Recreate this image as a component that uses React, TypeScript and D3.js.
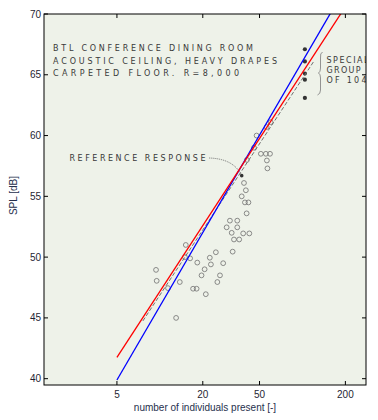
import React from 'react';
import * as d3 from 'd3';

// Tick labels
const xTicks = [5, 20, 50, 200];
const yTicks = [40, 45, 50, 55, 60, 65, 70];

// Open circles: number of individuals present, SPL [dB]
const openN = [47.7, 56.1, 59.8, 45.7, 40.8, 51.1, 55.4, 59.2, 56.3, 56.8, 38.9, 40.1, 37.5, 39.5, 41.8, 40.6,
  31.0, 34.9, 29.4, 34.9, 31.9, 38.4, 42.4, 33.1, 36.0, 32.4,
  15.2, 15.0, 16.3, 18.3, 22.4, 24.7, 22.8, 27.8, 20.6, 19.6, 26.4, 9.4, 9.5, 11.4, 13.8, 17.1, 18.1, 21.0, 25.3, 13.0];
const openSPL = [60.0, 60.7, 61.1, 59.0, 58.0, 58.5, 58.5, 58.5, 57.95, 57.3, 56.1, 55.5, 55.0, 54.5, 54.5, 53.6,
  53.0, 53.0, 52.45, 52.45, 52.0, 51.95, 51.95, 51.45, 51.45, 50.45,
  51.0, 50.0, 49.9, 49.55, 49.95, 50.4, 49.4, 49.5, 49.0, 48.5, 48.5, 48.95, 48.05, 47.45, 47.95, 47.4, 47.4, 46.95, 47.95, 45.0];

// Special group of 104 (filled dots)
const specialN = [104, 104, 104, 104, 104];
const specialSPL = [67.1, 66.1, 65.1, 64.6, 63.1];

// Reference response point
const refN = [37.5];
const refSPL = [56.7];

// Fitted lines (endpoints)
const blueN = [5, 175];
const blueSPL = [39.89, 71.0];
const redN = [5, 200];
const redSPL = [41.76, 70.6];
const grayN = [7.6, 120];
const graySPL = [44.75, 66.1];

const titleLines = ['BTL  CONFERENCE  DINING  ROOM', 'ACOUSTIC  CEILING,  HEAVY  DRAPES', 'CARPETED  FLOOR.   R=8,000'];
const specialLines = ['SPECIAL', 'GROUP', 'OF  104'];

export default function App() {
  const W = 378, H = 420;
  const L = 44, R = 366, T = 14, B = 385;
  const x = d3.scaleLog().domain([1.54, 279]).range([L, R]);
  const y = d3.scaleLinear().domain([39.48, 70]).range([B, T]);
  const pts = (ns: number[], ss: number[]) => ns.map((n, i) => ({ n, s: ss[i] }));
  const line = d3.line<{ n: number; s: number }>().x(d => x(d.n)).y(d => y(d.s));
  const annFont = "'DejaVu Sans', sans-serif";
  const refX = x(refN[0]), refY = y(refSPL[0]);
  const titleLen = [200, 224, 186];
  const titleY = [51, 63.5, 75.5];
  const specY = [62.5, 72.5, 82.5];
  const specLen = [42, 34, 40];
  return (
    <svg width={W} height={H} style={{ position: 'absolute', left: 0, top: 0, background: '#fff' }}
      fontFamily="'Liberation Sans', Arial, sans-serif">
      <defs>
        <clipPath id="plot"><rect x={L} y={T} width={R - L} height={B - T} /></clipPath>
      </defs>
      <rect x={L} y={T} width={R - L} height={B - T} fill="#eef2e9" />
      <g clipPath="url(#plot)">
        {/* annotations */}
        <g fontFamily={annFont} fontSize={8} fill="#3a3a3a" style={{ whiteSpace: 'pre' }}>
          {titleLines.map((t, i) => (
            <text key={i} x={53} y={titleY[i]} textLength={titleLen[i]} lengthAdjust="spacing">{t}</text>
          ))}
          <text x={69.5} y={161} textLength={136} lengthAdjust="spacing">REFERENCE  RESPONSE</text>
          {specialLines.map((t, i) => (
            <text key={i} x={326.5} y={specY[i]} textLength={specLen[i]} lengthAdjust="spacing">{t}</text>
          ))}
        </g>
        <path d="M322.5,52 Q320,53 320.5,58 L320.5,68 Q320.5,72 318.5,73 Q320.5,74 320.5,78 L320.5,90 Q320.5,94 317.5,95"
          fill="none" stroke="#888" strokeWidth={0.9} />
        <path d={`M209,158 Q${refX - 8},${refY - 17} ${refX},${refY}`} fill="none" stroke="#666" strokeWidth={0.8} strokeDasharray="1.2,0.8" />
        {/* open circles */}
        {pts(openN, openSPL).map((d, i) => (
          <circle key={i} cx={x(d.n)} cy={y(d.s)} r={2.4} fill="none" stroke="#707070" strokeWidth={0.8} />
        ))}
        {pts(specialN, specialSPL).map((d, i) => (
          <circle key={i} cx={x(d.n)} cy={y(d.s)} r={2.1} fill="#333" />
        ))}
        {pts(refN, refSPL).map((d, i) => (
          <circle key={i} cx={x(d.n)} cy={y(d.s)} r={1.8} fill="#333" />
        ))}
        <path d={line(pts(grayN, graySPL)) || ''} fill="none" stroke="#6f6f6f" strokeWidth={1} strokeDasharray="4,2" />
        <path d={line(pts(blueN, blueSPL)) || ''} fill="none" stroke="#0000ff" strokeWidth={1.3} />
        <path d={line(pts(redN, redSPL)) || ''} fill="none" stroke="#ff0000" strokeWidth={1.3} />
      </g>
      {/* frame */}
      <rect x={L} y={T} width={R - L} height={B - T} fill="none" stroke="#000" strokeWidth={1} />
      {/* ticks */}
      {yTicks.map(t => (
        <g key={t}>
          <line x1={L} x2={L + 4} y1={y(t)} y2={y(t)} stroke="#000" />
          <line x1={R} x2={R - 4} y1={y(t)} y2={y(t)} stroke="#000" />
          <text x={L - 3} y={y(t)} dy="0.35em" textAnchor="end" fontSize={10} fill="#1f1f33">{t}</text>
        </g>
      ))}
      {xTicks.map(t => (
        <g key={t}>
          <line x1={x(t)} x2={x(t)} y1={B} y2={B - 4} stroke="#000" />
          <line x1={x(t)} x2={x(t)} y1={T} y2={T + 4} stroke="#000" />
          <text x={x(t)} y={398} textAnchor="middle" fontSize={10} fill="#1f1f33">{t}</text>
        </g>
      ))}
      <text x={(L + R) / 2} y={411} textAnchor="middle" fontSize={10} fill="#26304d">number of individuals present  [-]</text>
      <text transform={`translate(17,${(T + B) / 2 - 4}) rotate(-90)`} textAnchor="middle" fontSize={10} fill="#26304d">SPL [dB]</text>
    </svg>
  );
}
